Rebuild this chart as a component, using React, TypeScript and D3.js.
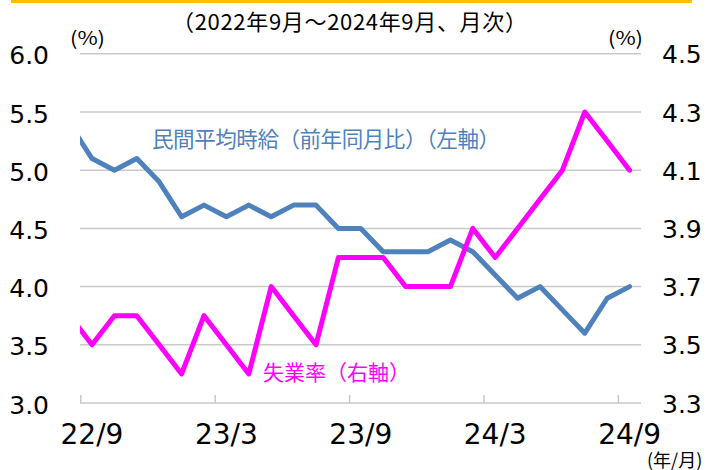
import React, { useEffect, useRef } from "react";
import * as d3 from "d3";

// monthly categories, 22/8 sits just left of the plot and is clipped
const months = [
  "22/8", "22/9", "22/10", "22/11", "22/12", "23/1", "23/2", "23/3", "23/4", "23/5",
  "23/6", "23/7", "23/8", "23/9", "23/10", "23/11", "23/12", "24/1", "24/2", "24/3",
  "24/4", "24/5", "24/6", "24/7", "24/8", "24/9",
];
const wageGrowth = [
  5.4, 5.1, 5.0, 5.1, 4.9, 4.6, 4.7, 4.6, 4.7, 4.6, 4.7, 4.7, 4.5,
  4.5, 4.3, 4.3, 4.3, 4.4, 4.3, 4.1, 3.9, 4.0, 3.8, 3.6, 3.9, 4.0,
];
const unemployment = [
  3.6, 3.5, 3.6, 3.6, 3.5, 3.4, 3.6, 3.5, 3.4, 3.7, 3.6, 3.5, 3.8,
  3.8, 3.8, 3.7, 3.7, 3.7, 3.9, 3.8, 3.9, 4.0, 4.1, 4.3, 4.2, 4.1,
];
const xTickLabels = ["22/9", "23/3", "23/9", "24/3", "24/9"];
const leftTicks = [3.0, 3.5, 4.0, 4.5, 5.0, 5.5, 6.0];
const rightTicks = [3.3, 3.5, 3.7, 3.9, 4.1, 4.3, 4.5];

const BLUE = "#4f81bd";
const PINK = "#ff00ff";
const GRID = "#c9c9c9";
const NUM_FONT = "'DejaVu Sans', sans-serif";
const JP_FONT = "'Noto Sans CJK JP', sans-serif";

export default function App() {
  const svgRef = useRef<SVGSVGElement>(null);

  useEffect(() => {
    const svg = d3.select(svgRef.current);
    svg.selectAll("*").remove();

    const plotLeft = 80;
    const plotRight = 641;
    const top = 53.8;
    const bottom = 403;

    const x = d3.scalePoint<string>().domain(months).range([69.6, 629.6]);
    const step = x.step();
    const yL = d3.scaleLinear().domain([3, 6]).range([bottom, top]);
    const yR = d3.scaleLinear().domain([3.3, 4.5]).range([bottom, top]);

    // yellow strip on top
    svg.append("rect").attr("x", 11).attr("y", 0).attr("width", 681).attr("height", 3).attr("fill", "#ffc000");

    // title and unit labels
    svg.append("text")
      .attr("x", 172).attr("y", 30)
      .attr("textLength", 355).attr("lengthAdjust", "spacing")
      .style("font-family", JP_FONT).style("font-size", "22px").attr("fill", "#000")
      .text("（2022年9月～2024年9月、月次）");
    svg.append("text").attr("x", 70).attr("y", 45)
      .attr("textLength", 35).attr("lengthAdjust", "spacingAndGlyphs")
      .style("font-family", JP_FONT).style("font-size", "19px").text("(%)");
    svg.append("text").attr("x", 608).attr("y", 45)
      .attr("textLength", 35).attr("lengthAdjust", "spacingAndGlyphs")
      .style("font-family", JP_FONT).style("font-size", "19px").text("(%)");
    svg.append("text").attr("x", 647).attr("y", 467)
      .style("font-family", JP_FONT).style("font-size", "18px").text("(年/月)");

    // grid lines
    svg.selectAll(".grid")
      .data(leftTicks)
      .join("line")
      .attr("x1", plotLeft).attr("x2", plotRight)
      .attr("y1", d => yL(d)).attr("y2", d => yL(d))
      .attr("stroke", GRID).attr("stroke-width", 1.5);

    // x tick marks between categories
    svg.selectAll(".xtick")
      .data(xTickLabels)
      .join("line")
      .attr("x1", d => (x(d) as number) - step / 2).attr("x2", d => (x(d) as number) - step / 2)
      .attr("y1", bottom - 8).attr("y2", bottom)
      .attr("stroke", GRID).attr("stroke-width", 1.5);

    svg.selectAll(".xlab")
      .data(xTickLabels)
      .join("text")
      .attr("x", d => x(d) as number).attr("y", 444)
      .attr("text-anchor", "middle")
      .style("font-family", NUM_FONT).style("font-size", "28px").attr("fill", "#000")
      .text(d => d);

    svg.selectAll(".ylab")
      .data(leftTicks)
      .join("text")
      .attr("x", 49).attr("y", d => yL(d) + 2)
      .attr("text-anchor", "end").attr("dominant-baseline", "central")
      .style("font-family", NUM_FONT).style("font-size", "25px").attr("fill", "#000")
      .text(d => d.toFixed(1));

    svg.selectAll(".rlab")
      .data(rightTicks)
      .join("text")
      .attr("x", 662).attr("y", d => yR(d) + 1)
      .attr("dominant-baseline", "central")
      .style("font-family", NUM_FONT).style("font-size", "25px").attr("fill", "#000")
      .text(d => d.toFixed(1));

    // clip the lines to the plot area
    svg.append("clipPath").attr("id", "plot-clip")
      .append("rect").attr("x", plotLeft).attr("y", 0).attr("width", 660 - plotLeft).attr("height", 470);

    const g = svg.append("g").attr("clip-path", "url(#plot-clip)");

    const wageLine = d3.line<number>().x((_, i) => x(months[i]) as number).y(d => yL(d));
    const unempLine = d3.line<number>().x((_, i) => x(months[i]) as number).y(d => yR(d));

    g.append("path").datum(wageGrowth)
      .attr("d", wageLine).attr("fill", "none")
      .attr("stroke", BLUE).attr("stroke-width", 5).attr("stroke-linejoin", "round").attr("stroke-linecap", "round");

    g.append("path").datum(unemployment)
      .attr("d", unempLine).attr("fill", "none")
      .attr("stroke", PINK).attr("stroke-width", 5).attr("stroke-linejoin", "round").attr("stroke-linecap", "round");

    // series labels
    svg.append("text").attr("x", 152).attr("y", 147)
      .attr("textLength", 348).attr("lengthAdjust", "spacing")
      .style("font-family", JP_FONT).style("font-size", "21.5px").attr("fill", BLUE)
      .text("民間平均時給（前年同月比）（左軸）");
    svg.append("text").attr("x", 263).attr("y", 380)
      .attr("textLength", 147).attr("lengthAdjust", "spacing")
      .style("font-family", JP_FONT).style("font-size", "21px").attr("fill", PINK)
      .text("失業率（右軸）");
  }, []);

  return (
    <svg ref={svgRef} width={711} height={470} style={{ position: "absolute", left: 0, top: 0, background: "#fff" }} />
  );
}
